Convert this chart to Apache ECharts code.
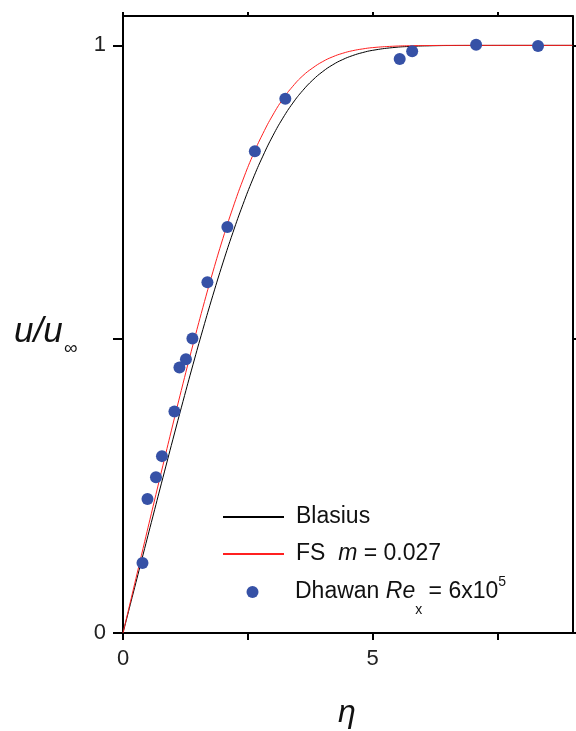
<!DOCTYPE html>
<html>
<head>
<meta charset="utf-8">
<script src="https://cdn.jsdelivr.net/npm/echarts@6/dist/echarts.min.js"></script>
<style>
html,body{margin:0;padding:0;background:#fff;}
#chart{width:576px;height:731px;}
</style>
</head>
<body>
<div id="chart"></div>
<script>
// ---- data ----
const etaGrid = [0, 0.2, 0.4, 0.6, 0.8, 1.0, 1.2, 1.4, 1.6, 1.8, 2.0, 2.2, 2.4, 2.6, 2.8, 3.0, 3.2, 3.4, 3.6, 3.8, 4.0, 4.2, 4.4, 4.6, 4.8, 5.0, 5.4, 5.8, 6.2, 6.6, 7.0, 8.0, 9.0];
const blasius = [0, 0.0664, 0.1328, 0.1989, 0.2647, 0.3298, 0.3938, 0.4563, 0.5168, 0.5748, 0.6298, 0.6813, 0.7290, 0.7725, 0.8115, 0.8461, 0.8761, 0.9018, 0.9233, 0.9411, 0.9555, 0.9670, 0.9759, 0.9827, 0.9878, 0.9916, 0.9962, 0.9984, 0.9994, 0.9998, 0.9999, 1.0, 1.0];
const fsM027 = [0, 0.0717, 0.1434, 0.2147, 0.2855, 0.3555, 0.4240, 0.4903, 0.5542, 0.6146, 0.6713, 0.7235, 0.7708, 0.8130, 0.8497, 0.8815, 0.9085, 0.9304, 0.9483, 0.9617, 0.9725, 0.9806, 0.9866, 0.9910, 0.9940, 0.9962, 0.9985, 0.9995, 0.9998, 1.0, 1.0, 1.0, 1.0];
const dhawanEta = [0.39, 0.49, 0.66, 0.78, 1.03, 1.13, 1.26, 1.39, 1.69, 2.09, 2.64, 3.25, 5.54, 5.79, 7.07, 8.31];
const dhawanU = [0.119, 0.228, 0.265, 0.301, 0.377, 0.452, 0.466, 0.501, 0.597, 0.691, 0.820, 0.909, 0.977, 0.990, 1.001, 0.999];
const xTicks = [0, 2.5, 5, 7.5];
const xLabels = [0, 5];
const yTicks = [0, 0.5, 1];
const yLabels = [0, 1];

const seriesNames = ['Blasius', 'FS', 'Dhawan'];

const zip = (a, b) => a.map((v, i) => [v, b[i]]);

const FONT = '"Liberation Sans", Arial, sans-serif';
const AX = '#000';
const LFS = 23;

const chart = echarts.init(document.getElementById('chart'), null, {renderer: 'canvas'});

const legendBase = {
  orient: 'vertical',
  left: 222,
  padding: 0,
  itemWidth: 61,
  itemHeight: 1,
  textStyle: {
    fontFamily: FONT,
    fontSize: LFS,
    color: '#111',
    padding: [0, 0, 0, 7]
  }
};

const nStyle = {fontFamily: FONT, fontSize: LFS, color: '#111', lineHeight: 30, verticalAlign: 'middle'};
const iStyle = Object.assign({}, nStyle, {fontStyle: 'italic'});

chart.setOption({
  animation: false,
  backgroundColor: '#fff',
  grid: {left: 123, right: 3.5, top: 16, bottom: 98, containLabel: false, outerBoundsMode: 'none'},
  legend: [
    Object.assign({}, legendBase, {
      top: 505.5, data: [seriesNames[0]],
      formatter: () => '{n|Blasius}',
      textStyle: Object.assign({}, legendBase.textStyle, {rich: {n: nStyle}})
    }),
    Object.assign({}, legendBase, {
      top: 542.5, data: [seriesNames[1]],
      formatter: () => '{n|FS  }{i|m}{n| = 0.027}',
      textStyle: Object.assign({}, legendBase.textStyle, {rich: {n: nStyle, i: iStyle}})
    }),
    Object.assign({}, legendBase, {
      left: 246.5, top: 567, itemHeight: 12, data: [{name: seriesNames[2], icon: 'circle'}],
      formatter: () => '{n|Dhawan }{i|Re}{sub|x}{n| = 6x10}{sup|5}',
      textStyle: Object.assign({}, legendBase.textStyle, {rich: {
        n: nStyle, i: iStyle,
        sub: {fontFamily: FONT, fontSize: 14, color: '#111', lineHeight: 14, verticalAlign: 'middle', padding: [36, 0, 0, 0]},
        sup: {fontFamily: FONT, fontSize: 14, color: '#111', lineHeight: 14, verticalAlign: 'middle', padding: [0, 0, 20, 0]}
      }})
    })
  ],
  xAxis: [
    {
      type: 'value', min: 0, max: 9, position: 'bottom',
      axisLine: {show: true, onZero: false, lineStyle: {color: AX, width: 2}},
      axisTick: {show: true, inside: false, length: 7, lineStyle: {color: AX, width: 2}, customValues: xTicks},
      axisLabel: {show: true, customValues: xLabels, fontFamily: FONT, fontSize: 22, color: '#222', margin: 15},
      splitLine: {show: false}
    },
    {
      type: 'value', min: 0, max: 9, position: 'top',
      axisLine: {show: true, onZero: false, lineStyle: {color: AX, width: 2}},
      axisTick: {show: true, inside: false, length: 4, lineStyle: {color: AX, width: 2}, customValues: xTicks},
      axisLabel: {show: false},
      splitLine: {show: false}
    }
  ],
  yAxis: [
    {
      type: 'value', min: 0, max: 1.05, position: 'left',
      axisLine: {show: true, onZero: false, lineStyle: {color: AX, width: 2}},
      axisTick: {show: true, inside: false, length: 10, lineStyle: {color: AX, width: 2}, customValues: yTicks},
      axisLabel: {show: true, customValues: yLabels, fontFamily: FONT, fontSize: 22, color: '#222', margin: 17},
      splitLine: {show: false}
    },
    {
      type: 'value', min: 0, max: 1.05, position: 'right',
      axisLine: {show: true, onZero: false, lineStyle: {color: AX, width: 2}},
      axisTick: {show: true, inside: false, length: 4, lineStyle: {color: AX, width: 2}, customValues: yTicks},
      axisLabel: {show: false},
      splitLine: {show: false}
    }
  ],
  graphic: [
    {type: 'text', left: 14, top: 315, style: {text: 'u/u', font: 'italic 35px ' + FONT, fill: '#111'}},
    {type: 'text', left: 64, top: 339, style: {text: '∞', font: '19px ' + FONT, fill: '#111'}},
    {type: 'text', left: 338, top: 697, style: {text: 'η', font: 'italic 32px ' + FONT, fill: '#111'}}
  ],
  series: [
    {
      name: seriesNames[0], type: 'line', data: zip(etaGrid, blasius),
      xAxisIndex: 0, yAxisIndex: 0, smooth: true, symbol: 'none',
      lineStyle: {color: '#000', width: 1}, itemStyle: {color: '#000'}, z: 2
    },
    {
      name: seriesNames[1], type: 'line', data: zip(etaGrid, fsM027),
      xAxisIndex: 0, yAxisIndex: 0, smooth: true, symbol: 'none',
      lineStyle: {color: '#ff2020', width: 1}, itemStyle: {color: '#ff2020'}, z: 3
    },
    {
      name: seriesNames[2], type: 'scatter', data: zip(dhawanEta, dhawanU),
      xAxisIndex: 0, yAxisIndex: 0, symbol: 'circle', symbolSize: 12,
      itemStyle: {color: '#3651a6', opacity: 1}, z: 4
    }
  ]
});
</script>
</body>
</html>
